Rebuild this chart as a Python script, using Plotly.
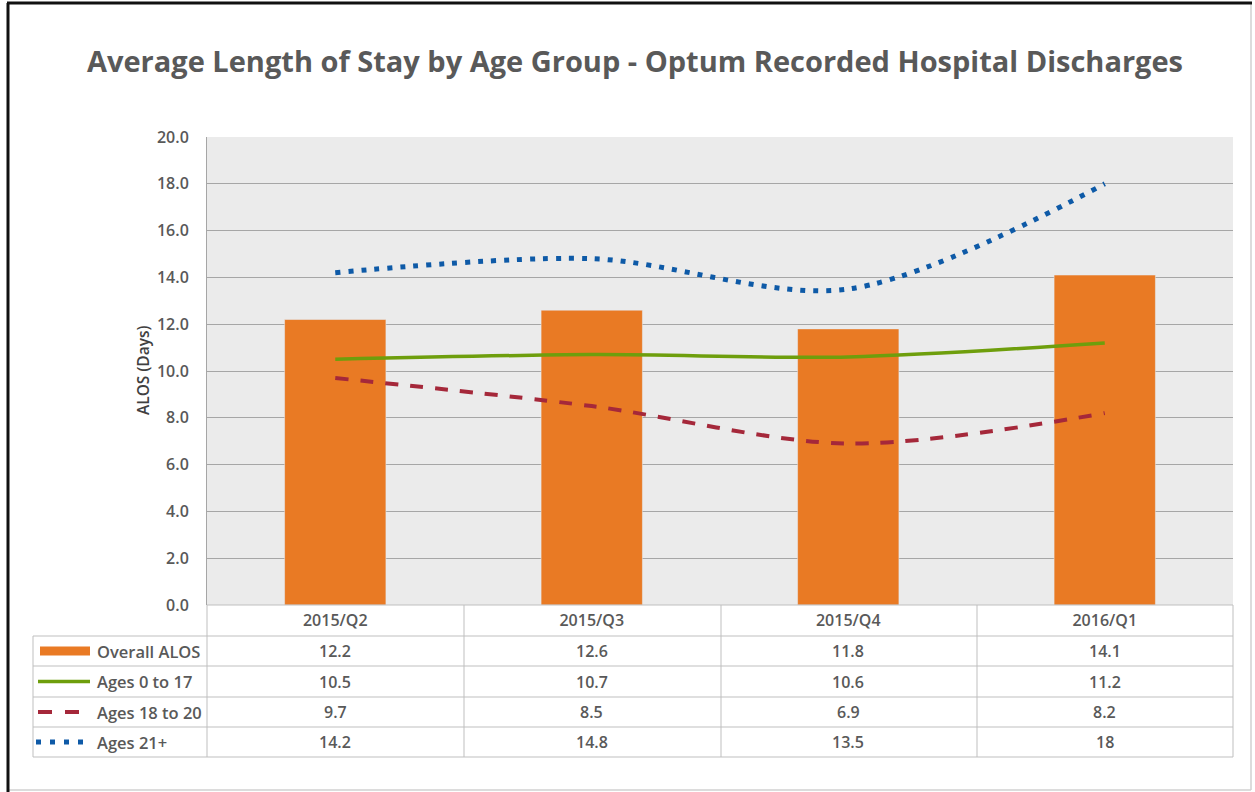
import plotly.graph_objects as go

categories = ["2015/Q2", "2015/Q3", "2015/Q4", "2016/Q1"]
overall_alos = [12.2, 12.6, 11.8, 14.1]
ages_0_17 = [10.5, 10.7, 10.6, 11.2]
ages_18_20 = [9.7, 8.5, 6.9, 8.2]
ages_21_plus = [14.2, 14.8, 13.5, 18]
value_labels = [
    ["12.2", "12.6", "11.8", "14.1"],
    ["10.5", "10.7", "10.6", "11.2"],
    ["9.7", "8.5", "6.9", "8.2"],
    ["14.2", "14.8", "13.5", "18"],
]
series_names = ["Overall ALOS", "Ages 0 to 17", "Ages 18 to 20", "Ages 21+"]
y_ticks = [0, 2, 4, 6, 8, 10, 12, 14, 16, 18, 20]

W, H = 1255, 792
L, R, T, B = 207, 1233, 137, 605

def px(x):
    return (x - L) / (R - L)

def py(y):
    return (B - y) / (B - T)

ORANGE = "#E97A24"
GREEN = "#6E9E0C"
RED = "#A5283A"
BLUE = "#0E5AA7"
TXT = "#595959"
GRID = "#BFBFBF"
FONT = "Open Sans"

fig = go.Figure()
fig.add_trace(go.Bar(x=categories, y=overall_alos, marker_color=ORANGE, width=0.395,
                     name=series_names[0], showlegend=False))
fig.add_trace(go.Scatter(x=categories, y=ages_0_17, mode="lines", name=series_names[1],
                         line=dict(color=GREEN, width=3.5, shape="spline", smoothing=0.9), showlegend=False))
fig.add_trace(go.Scatter(x=categories, y=ages_18_20, mode="lines", name=series_names[2],
                         line=dict(color=RED, width=4, shape="spline", smoothing=0.9, dash="13px,12px"),
                         showlegend=False))
fig.add_trace(go.Scatter(x=categories, y=ages_21_plus, mode="lines", name=series_names[3],
                         line=dict(color=BLUE, width=5, shape="spline", smoothing=0.9, dash="5px,8px"),
                         showlegend=False))

shapes = []
annotations = []
line_style = dict(color=GRID, width=1)

rows_y = [605, 636, 666, 697, 727, 757]
for i, yy in enumerate(rows_y):
    x0 = 207 if i == 0 else 33
    shapes.append(dict(type="line", xref="paper", yref="paper", x0=px(x0), x1=px(1233),
                       y0=py(yy), y1=py(yy), line=line_style))
cols_x = [207, 464, 721, 977, 1233]
for xx in cols_x:
    shapes.append(dict(type="line", xref="paper", yref="paper", x0=px(xx), x1=px(xx),
                       y0=py(605), y1=py(757), line=line_style))
shapes.append(dict(type="line", xref="paper", yref="paper", x0=px(33), x1=px(33),
                   y0=py(636), y1=py(757), line=line_style))

row_c = [651, 681.5, 712, 742]
shapes.append(dict(type="rect", xref="paper", yref="paper", x0=px(40), x1=px(90),
                   y0=py(row_c[0] - 4.5), y1=py(row_c[0] + 4.5), fillcolor=ORANGE, line=dict(width=0)))
shapes.append(dict(type="line", xref="paper", yref="paper", x0=px(38), x1=px(90),
                   y0=py(row_c[1]), y1=py(row_c[1]), line=dict(color=GREEN, width=3.5)))
shapes.append(dict(type="line", xref="paper", yref="paper", x0=px(38), x1=px(79),
                   y0=py(row_c[2]), y1=py(row_c[2]), line=dict(color=RED, width=4, dash="14px,13px")))
shapes.append(dict(type="line", xref="paper", yref="paper", x0=px(36), x1=px(83),
                   y0=py(row_c[3]), y1=py(row_c[3]), line=dict(color=BLUE, width=5, dash="5px,9px")))

for name, yc in zip(series_names, row_c):
    annotations.append(dict(xref="paper", yref="paper", x=px(95), y=py(yc), text=name,
                            showarrow=False, xanchor="left", yanchor="middle",
                            font=dict(family=FONT, size=16.5, color=TXT, weight=600)))

for labels, yc in zip(value_labels, row_c):
    for j, t in enumerate(labels):
        annotations.append(dict(xref="x", yref="paper", x=categories[j], y=py(yc), text=t,
                                showarrow=False, xanchor="center", yanchor="middle",
                                font=dict(family=FONT, size=16, color=TXT, weight=600)))

annotations.append(dict(xref="paper", yref="paper", x=px(143), y=py(370), text="ALOS (Days)",
                        textangle=-90, showarrow=False, xanchor="center", yanchor="middle",
                        font=dict(family=FONT, size=15.5, color="#404040", weight=600)))

# frame
shapes.append(dict(type="line", xref="paper", yref="paper", x0=px(1251), x1=px(1251),
                   y0=py(3), y1=py(790), line=dict(color="#D0D0D0", width=1.5)))
shapes.append(dict(type="line", xref="paper", yref="paper", x0=px(7), x1=px(1251),
                   y0=py(790), y1=py(790), line=dict(color="#D0D0D0", width=1.5)))
shapes.append(dict(type="line", xref="paper", yref="paper", x0=px(7), x1=px(1252),
                   y0=py(3), y1=py(3), line=dict(color="#111111", width=3)))
shapes.append(dict(type="line", xref="paper", yref="paper", x0=px(8), x1=px(8),
                   y0=py(3), y1=py(792), line=dict(color="#111111", width=3)))

fig.update_layout(
    width=W, height=H,
    margin=dict(l=L, r=W - R, t=T, b=H - B, pad=0),
    paper_bgcolor="white", plot_bgcolor="#EBEBEB",
    title=dict(text="<b>Average Length of Stay by Age Group - Optum Recorded Hospital Discharges</b>",
               x=635 / W, xanchor="center", y=1 - 62 / H, yanchor="middle", yref="container",
               font=dict(family=FONT, size=29, color=TXT)),
    shapes=shapes, annotations=annotations,
)
fig.update_xaxes(type="category", range=[-0.5, 3.5], showgrid=False, ticks="",
                 showline=False, zeroline=False, ticklabelstandoff=4,
                 tickfont=dict(family=FONT, size=16, color=TXT, weight=600))
fig.update_yaxes(range=[0, 20], tickvals=y_ticks, tickformat=".1f", showgrid=True,
                 gridcolor="#A6A6A6", gridwidth=1, zeroline=False, showline=True,
                 linecolor="#A6A6A6", linewidth=1, ticks="", ticklabelstandoff=14,
                 tickfont=dict(family=FONT, size=16, color=TXT, weight=600))

fig.write_html("out.html", config={"displayModeBar": False},
               post_script="document.body.style.margin='0';")
